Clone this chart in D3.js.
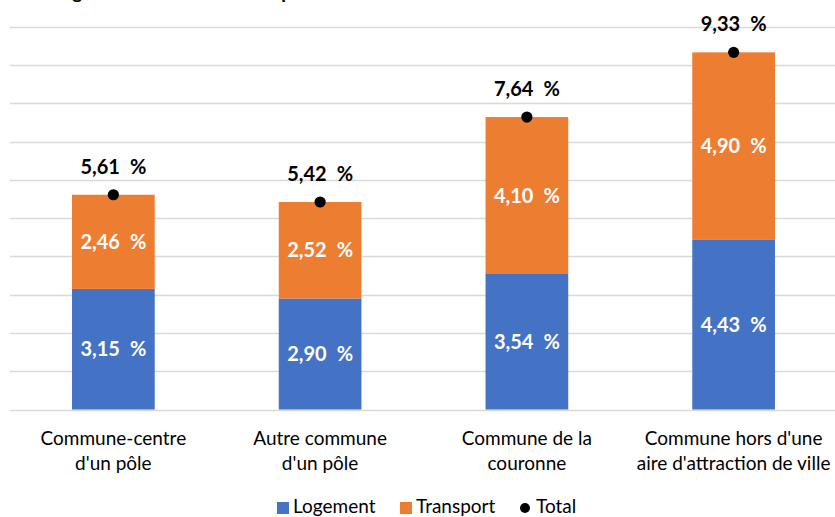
<!DOCTYPE html>
<html><head><meta charset="utf-8">
<script src="https://cdn.jsdelivr.net/npm/d3@7"></script>
<style>html,body{margin:0;padding:0;background:#fff;}svg{display:block;}</style>
</head><body>
<svg id="chart" width="835" height="517"></svg>
<script>
const categories = [["Commune-centre","d'un pôle"],["Autre commune","d'un pôle"],["Commune de la","couronne"],["Commune hors d'une","aire d'attraction de ville"]];
const logement = [3.15, 2.90, 3.54, 4.43];
const transport = [2.46, 2.52, 4.10, 4.90];
const total = [5.61, 5.42, 7.64, 9.33];
const yTicks = [0,1,2,3,4,5,6,7,8,9,10];
const seriesNames = ["Logement","Transport","Total"];
const colors = {Logement:"#4472C4", Transport:"#ED7D31", Total:"#000000"};
const title = "Logement et coûts de transport";

const fmt = v => v.toFixed(2).replace(".", ",") + "\u2002%";
const svg = d3.select("#chart");
const font = "Lato, 'Open Sans', sans-serif";

const x = d3.scaleBand().domain(d3.range(categories.length)).range([10, 837]).paddingInner(0.6).paddingOuter(0.3);
const y = d3.scaleLinear().domain([0, 10]).range([409.5, 26.7]);

// title (mostly cut off at top, as in the reference)
svg.append("text").attr("x", 52).attr("y", -1).attr("font-family", font).attr("font-weight", "bold")
  .attr("font-size", 19).attr("fill", "#000").text(title);

// gridlines
svg.append("g").selectAll("line").data(yTicks).join("line")
  .attr("x1", 10).attr("x2", 835)
  .attr("y1", d => Math.round(y(d)) + 0.5).attr("y2", d => Math.round(y(d)) + 0.5)
  .attr("stroke", "#D9D9D9").attr("stroke-width", 1.3);

const idx = d3.range(categories.length);
// logement bars
svg.append("g").selectAll("rect").data(idx).join("rect")
  .attr("x", i => x(i)).attr("width", x.bandwidth())
  .attr("y", i => y(logement[i])).attr("height", i => y(0) - y(logement[i]))
  .attr("fill", colors.Logement);
// transport bars
svg.append("g").selectAll("rect").data(idx).join("rect")
  .attr("x", i => x(i)).attr("width", x.bandwidth())
  .attr("y", i => y(logement[i] + transport[i])).attr("height", i => y(logement[i]) - y(logement[i] + transport[i]))
  .attr("fill", colors.Transport);

// labels in bars
const lab = svg.append("g").attr("font-family", font).attr("font-weight", "bold").attr("font-size", 20)
  .attr("text-anchor", "middle");
lab.selectAll("text.l").data(idx).join("text").attr("class","l")
  .attr("x", i => x(i) + x.bandwidth()/2).attr("y", i => (y(0) + y(logement[i]))/2).attr("dy", "0.35em")
  .attr("fill", "#fff").text(i => fmt(logement[i]));
lab.selectAll("text.t").data(idx).join("text").attr("class","t")
  .attr("x", i => x(i) + x.bandwidth()/2).attr("y", i => (y(logement[i]) + y(logement[i]+transport[i]))/2).attr("dy", "0.35em")
  .attr("fill", "#fff").text(i => fmt(transport[i]));

// total dots
svg.append("g").selectAll("circle").data(idx).join("circle")
  .attr("cx", i => x(i) + x.bandwidth()/2).attr("cy", i => y(total[i])).attr("r", 5.6).attr("fill", "#000");
lab.selectAll("text.tot").data(idx).join("text").attr("class","tot")
  .attr("x", i => x(i) + x.bandwidth()/2).attr("y", i => y(total[i]) - 21)
  .attr("fill", "#000").text(i => fmt(total[i]));

// x labels
const xl = svg.append("g").attr("font-family", font).attr("font-size", 19).attr("fill", "#000").attr("text-anchor", "middle");
idx.forEach(i => {
  categories[i].forEach((line, j) => {
    xl.append("text").attr("x", x(i) + x.bandwidth()/2).attr("y", 445 + j*25).attr("fill", "#000").text(line);
  });
});

// legend
const lg = svg.append("g").attr("font-family", font).attr("font-size", 19).attr("fill", "#000");
const legendItems = [{name: seriesNames[0], x: 277, type: "rect"}, {name: seriesNames[1], x: 400, type: "rect"}, {name: seriesNames[2], x: 520, type: "dot"}];
legendItems.forEach(it => {
  if (it.type === "rect") lg.append("rect").attr("x", it.x).attr("y", 502).attr("width", 12).attr("height", 12).attr("fill", colors[it.name]);
  else lg.append("circle").attr("cx", it.x + 5).attr("cy", 508).attr("r", 5).attr("fill", colors[it.name]);
  lg.append("text").attr("x", it.x + 16).attr("y", 513).text(it.name);
});
</script>
</body></html>
